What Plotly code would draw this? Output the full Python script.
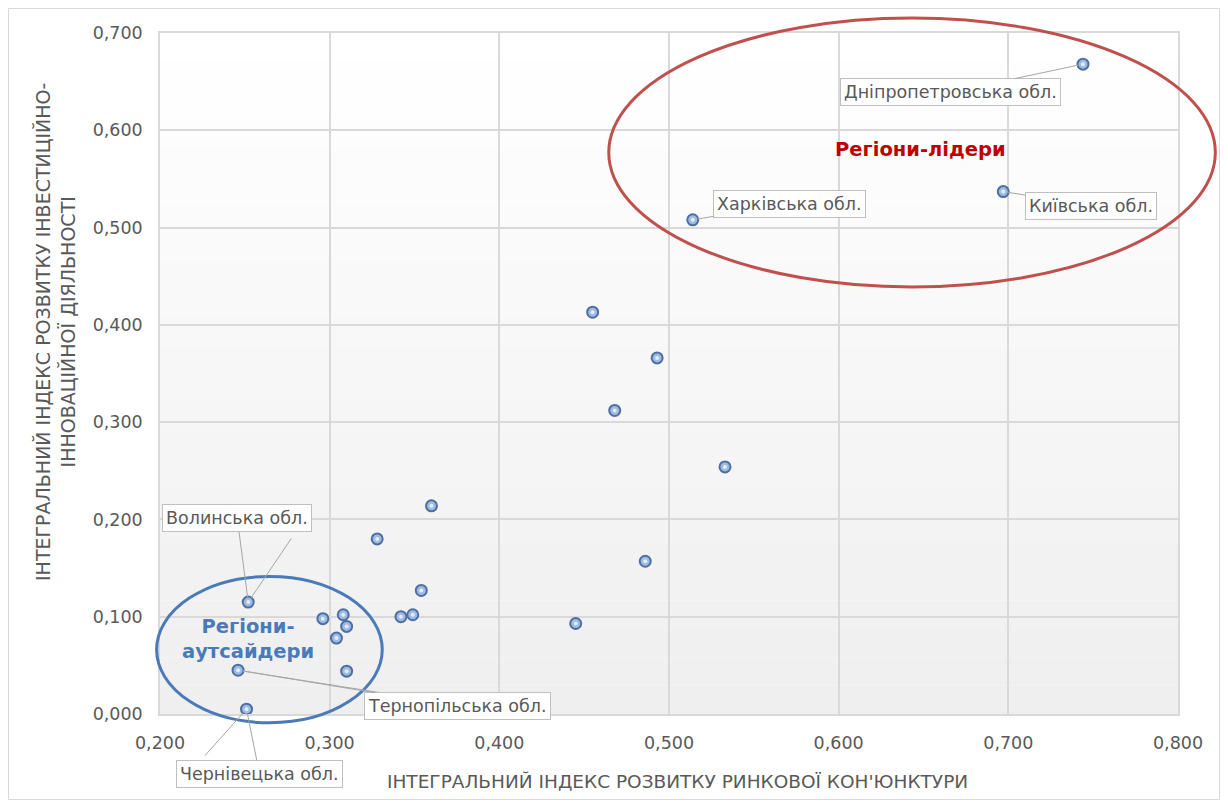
import plotly.graph_objects as go

# ---------------- data ----------------
x_market = [0.744, 0.697, 0.514, 0.455, 0.493, 0.468, 0.533, 0.360, 0.328, 0.486, 0.354,
            0.342, 0.349, 0.445, 0.252, 0.296, 0.308, 0.310, 0.304, 0.310, 0.246, 0.251]
y_invest = [0.668, 0.537, 0.508, 0.413, 0.366, 0.312, 0.254, 0.214, 0.180, 0.157, 0.127,
            0.100, 0.102, 0.093, 0.115, 0.098, 0.102, 0.090, 0.078, 0.044, 0.045, 0.005]
region_labels = ["Дніпропетровська обл.", "Київська обл.", "Харківська обл.", "", "", "", "",
                 "", "", "", "", "", "", "", "Волинська обл.", "", "", "", "", "",
                 "Тернопільська обл.", "Чернівецька обл."]
x_ticks = [0.2, 0.3, 0.4, 0.5, 0.6, 0.7, 0.8]
y_ticks = [0.0, 0.1, 0.2, 0.3, 0.4, 0.5, 0.6, 0.7]
x_title = "ІНТЕГРАЛЬНИЙ ІНДЕКС РОЗВИТКУ РИНКОВОЇ КОН'ЮНКТУРИ"
y_title = "ІНТЕГРАЛЬНИЙ ІНДЕКС РОЗВИТКУ ІНВЕСТИЦІЙНО-<br>ІННОВАЦІЙНОЇ ДІЯЛЬНОСТІ"
group_leaders = "Регіони-лідери"
group_outsiders = "Регіони-<br>аутсайдери"

# ---------------- style / layout ----------------
# page has an 8px body margin, so the figure spans 8..1220 x 8..800
W, H = 1212, 792
ML, MR, MT, MB = 152, 42, 25, 86
XR = [0.2, 0.8]
YR = [0.0, 0.7]
FONT = "DejaVu Sans"
BOLDFONT = "DejaVu Sans"
GRAY = "#595959"
LEADER = "#a6a6a6"

# label box offsets (pixels from point), keyed by label
label_offsets = {
    "Дніпропетровська обл.": (-132, 28),
    "Київська обл.": (88, 14),
    "Харківська обл.": (97, -16),
    "Волинська обл.": (-11, -84),
    "Тернопільська обл.": (219, 36),
    "Чернівецька обл.": (13, 65),
}
# secondary leader lines (tail offsets in pixels from the point)
extra_leaders = {
    "Волинська обл.": (44, -65),
    "Чернівецька обл.": (-43, 48),
    "Тернопільська обл.": (190, 30),
}


def xp(v):
    return (v - XR[0]) / (XR[1] - XR[0])


def yp(v):
    return (v - YR[0]) / (YR[1] - YR[0])


pw = W - ML - MR
ph = H - MT - MB


def fx(px):  # figure pixel x -> paper
    return (px - ML) / pw


def fy(py):  # figure pixel y (from top) -> paper
    return (H - MB - py) / ph


fig = go.Figure()
fig.add_trace(go.Scatter(
    x=x_market, y=y_invest, mode="markers",
    marker=dict(size=11, color="#9dbbe3", line=dict(color="#4f6fa3", width=2)),
    hoverinfo="x+y", showlegend=False, cliponaxis=False,
))
fig.add_trace(go.Scatter(
    x=x_market, y=y_invest, mode="markers",
    marker=dict(size=4, color="#e3ecf8", line=dict(width=0)),
    hoverinfo="skip", showlegend=False, cliponaxis=False,
))

shapes = []
# plot area gradient
N = 24
for i in range(N):
    t = i / (N - 1)
    c = int(round(255 - 16 * t))
    shapes.append(dict(type="rect", xref="x domain", yref="y domain",
                       x0=0, x1=1, y0=1 - (i + 1) / N, y1=1 - i / N,
                       fillcolor=f"rgb({c},{c},{c})", line=dict(width=0), layer="below"))
# outer chart border along the figure edge
shapes.append(dict(type="rect", xref="paper", yref="paper",
                   x0=(-ML + 0.5) / pw, x1=1 + (MR - 0.5) / pw,
                   y0=(-MB + 0.5) / ph, y1=1 + (MT - 0.5) / ph,
                   line=dict(color="#d9d9d9", width=1), layer="below"))
# ellipses (data-space bounds converted to paper)
shapes.append(dict(type="circle", xref="paper", yref="paper",
                   x0=xp(0.4645), x1=xp(0.822), y0=yp(0.439), y1=yp(0.7154),
                   line=dict(color="#c0504d", width=3)))
shapes.append(dict(type="circle", xref="paper", yref="paper",
                   x0=xp(0.198), x1=xp(0.331), y0=yp(-0.009), y1=yp(0.1414),
                   line=dict(color="#4a7ab8", width=3)))

annotations = []
for xv, yv, lab in zip(x_market, y_invest, region_labels):
    if not lab:
        continue
    if lab in extra_leaders:
        eax, eay = extra_leaders[lab]
        annotations.append(dict(
            x=xv, y=yv, xref="x", yref="y", text="", showarrow=True,
            ax=eax, ay=eay, arrowhead=0, arrowwidth=1, arrowcolor=LEADER, standoff=5,
        ))
    ax, ay = label_offsets[lab]
    annotations.append(dict(
        x=xv, y=yv, xref="x", yref="y", text=lab, showarrow=True,
        ax=ax, ay=ay, arrowhead=0, arrowwidth=1, arrowcolor=LEADER,
        standoff=5, bgcolor="white", bordercolor="#bfbfbf", borderwidth=1,
        borderpad=3, font=dict(family=FONT, size=17.5, color=GRAY),
    ))
annotations.append(dict(x=0.648, y=0.580, xref="x", yref="y", text=f"<b>{group_leaders}</b>",
                        showarrow=False, font=dict(family=BOLDFONT, size=19.5, color="#c00000")))
annotations.append(dict(x=0.252, y=0.077, xref="x", yref="y", text=f"<b>{group_outsiders}</b>",
                        showarrow=False, font=dict(family=BOLDFONT, size=19.5, color="#4a7ab8")))
# axis titles
annotations.append(dict(x=fx(47), y=fy(324), xref="paper", yref="paper", text=y_title,
                        textangle=-90, showarrow=False, xanchor="center", yanchor="middle",
                        font=dict(family=FONT, size=19, color=GRAY)))
annotations.append(dict(x=fx(669), y=fy(773), xref="paper", yref="paper", text=x_title,
                        showarrow=False, xanchor="center", yanchor="middle",
                        font=dict(family=FONT, size=18.5, color=GRAY)))

axis_common = dict(
    showgrid=True, gridcolor="#d9d9d9", gridwidth=1.5, zeroline=False,
    showline=True, linecolor="#d9d9d9", linewidth=1.5, mirror=True,
    tickformat=".3f", tickfont=dict(family=FONT, size=17.5, color=GRAY),
    ticks="", ticklabelstandoff=12,
)

fig.update_layout(
    width=W, height=H,
    margin=dict(l=ML, r=MR, t=MT, b=MB),
    paper_bgcolor="white", plot_bgcolor="rgba(0,0,0,0)",
    separators=", ",
    font=dict(family=FONT, color=GRAY),
    xaxis=dict(range=XR, tickvals=x_ticks, **axis_common),
    yaxis=dict(range=YR, tickvals=y_ticks, **axis_common),
    shapes=shapes, annotations=annotations,
)

fig.write_html("out.html")
